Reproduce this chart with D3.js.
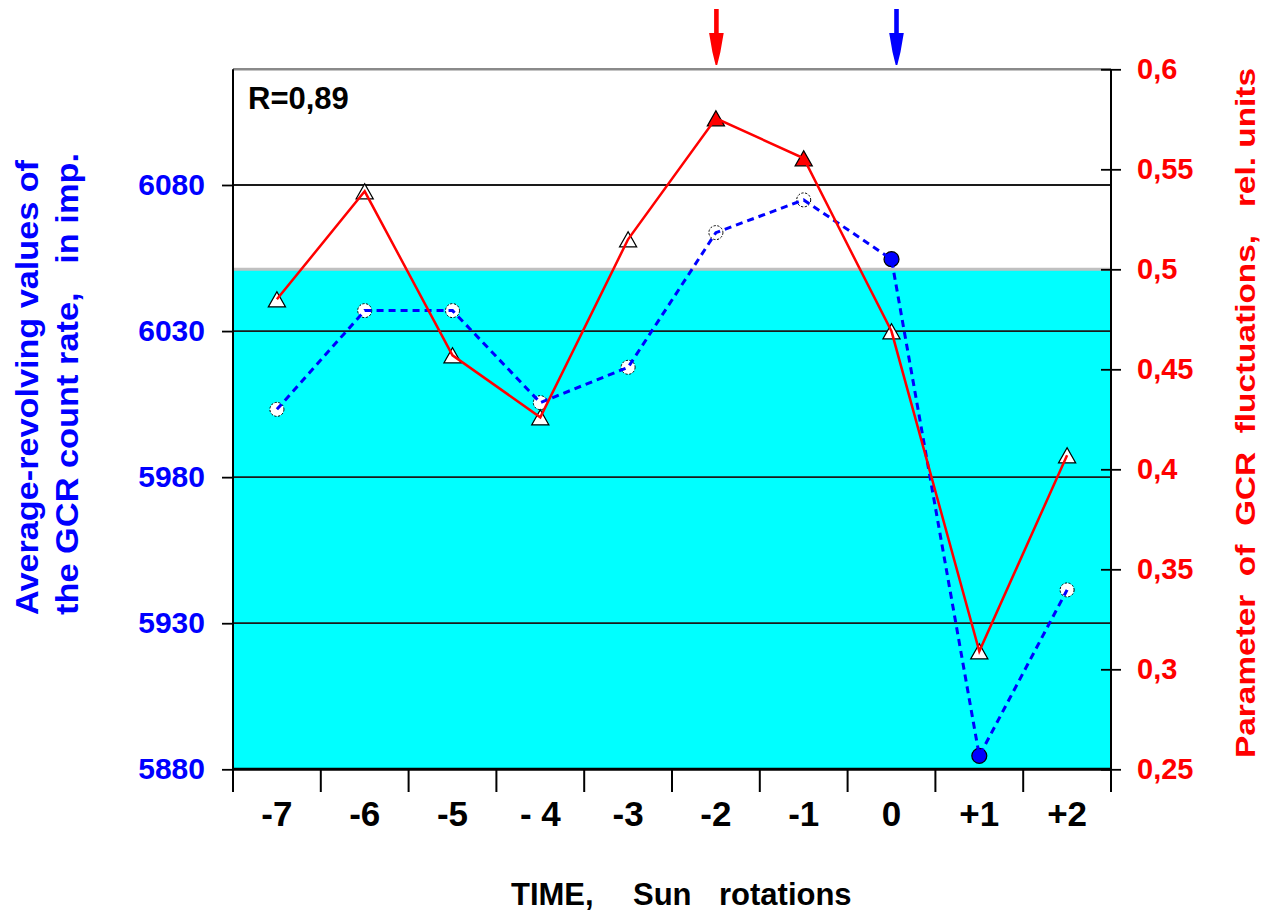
<!DOCTYPE html>
<html>
<head>
<meta charset="utf-8">
<script src="https://cdn.jsdelivr.net/npm/d3@7"></script>
<style>
  html, body { margin: 0; padding: 0; background: #fff; }
  svg { display: block; font-family: "Liberation Sans", Arial, sans-serif; }
  text { white-space: pre; }
</style>
</head>
<body>
<script>
// ---------------- DATA ----------------
const cats = ["-7", "-6", "-5", "- 4", "-3", "-2", "-1", "0", "+1", "+2"];
// Average-revolving GCR count rate (left axis, imp.)
const gcrCount = [6003.2, 6037.0, 6037.0, 6005.5, 6017.6, 6063.7, 6074.9, 6054.6, 5884.6, 5941.4];
// Parameter of GCR fluctuations (right axis, rel. units)
const gcrParam = [0.485, 0.539, 0.457, 0.426, 0.515, 0.5755, 0.5555, 0.469, 0.309, 0.407];
const countFilledCats = ["0", "+1"];
const paramFilledCats = ["-2", "-1"];
const leftTicks = [5880, 5930, 5980, 6030, 6080];
const rightTicks = [0.25, 0.3, 0.35, 0.4, 0.45, 0.5, 0.55, 0.6];
const bandLevel = [0.25, 0.5];          // cyan band on right-axis scale
const arrowCats = ["-2", "0"];
const arrowColors = ["#FF0000", "#0000FF"];
const corrLabel = "R=0,89";

// ---------------- LAYOUT ----------------
const W = 1274, H = 915;
const P = { l: 233, r: 1111, t: 69.3, b: 769.3 };
const tickBottom = 792;
const BLUE = "#0000FF", RED = "#FF0000";

const svg = d3.select("body").append("svg").attr("width", W).attr("height", H);
svg.append("rect").attr("width", W).attr("height", H).attr("fill", "#fff");

const x = d3.scaleBand().domain(cats).range([P.l, P.r]).padding(0);
const xc = c => x(c) + x.bandwidth() / 2;
const yL = d3.scaleLinear().domain([5880, 6119.6]).range([P.b, P.t]);
const yR = d3.scaleLinear().domain([0.25, 0.6]).range([P.b, P.t]);

// cyan band
svg.append("rect")
  .attr("x", P.l).attr("y", yR(bandLevel[1]))
  .attr("width", P.r - P.l).attr("height", yR(bandLevel[0]) - yR(bandLevel[1]))
  .attr("fill", "#00FFFF");

// grid lines
svg.append("g").selectAll("line").data(leftTicks.filter(v => v > leftTicks[0])).join("line")
  .attr("x1", P.l).attr("x2", P.r)
  .attr("y1", d => yL(d)).attr("y2", d => yL(d))
  .attr("stroke", "#1a1a1a").attr("stroke-width", 1.8);

// gray band top line
svg.append("line").attr("x1", P.l).attr("x2", P.r)
  .attr("y1", yR(bandLevel[1])).attr("y2", yR(bandLevel[1]))
  .attr("stroke", "#c0c0c0").attr("stroke-width", 3);

// top border
svg.append("line").attr("x1", P.l).attr("x2", P.r)
  .attr("y1", P.t).attr("y2", P.t)
  .attr("stroke", "#8a8a8a").attr("stroke-width", 2.5);

// ---------------- AXES ----------------
const gL = svg.append("g").attr("transform", `translate(${P.l},0)`)
  .call(d3.axisLeft(yL).tickValues(leftTicks).tickSize(11).tickPadding(17).tickFormat(d3.format("d")));
gL.select(".domain").remove();
gL.selectAll(".tick line").attr("stroke", "#000").attr("stroke-width", 1.8);
gL.selectAll(".tick text").attr("fill", BLUE)
  .style("font", "bold 30px 'Liberation Sans', Arial, sans-serif");

const gR = svg.append("g").attr("transform", `translate(${P.r},0)`)
  .call(d3.axisRight(yR).tickValues(rightTicks).tickSize(10).tickPadding(16)
    .tickFormat(d => String(d).replace(".", ",")));
gR.select(".domain").remove();
gR.selectAll(".tick line").attr("x1", -10).attr("x2", 10).attr("stroke", "#000").attr("stroke-width", 1.8);
gR.selectAll(".tick text").attr("fill", RED)
  .style("font", "bold 29px 'Liberation Sans', Arial, sans-serif");

const gB = svg.append("g").attr("transform", `translate(0,${P.b})`)
  .call(d3.axisBottom(x).tickSize(0).tickPadding(31.5));
gB.select(".domain").remove();
gB.selectAll(".tick text").attr("fill", "#000")
  .style("font", "bold 35px 'Liberation Sans', Arial, sans-serif");

// category boundary ticks
const bounds = cats.map(c => x(c)).concat([x.range()[1]]);
svg.append("g").selectAll("line").data(bounds).join("line")
  .attr("x1", d => d).attr("x2", d => d)
  .attr("y1", P.b).attr("y2", tickBottom)
  .attr("stroke", "#000").attr("stroke-width", 2);

// axis lines
svg.append("line").attr("x1", P.l).attr("x2", P.r).attr("y1", P.b).attr("y2", P.b)
  .attr("stroke", "#000").attr("stroke-width", 3);
svg.append("line").attr("x1", P.l).attr("x2", P.l).attr("y1", P.t).attr("y2", tickBottom)
  .attr("stroke", "#000").attr("stroke-width", 2);
svg.append("line").attr("x1", P.r).attr("x2", P.r).attr("y1", P.t).attr("y2", tickBottom)
  .attr("stroke", "#000").attr("stroke-width", 2);

// ---------------- SERIES ----------------
const countData = cats.map((c, i) => ({ c, v: gcrCount[i] }));
const paramData = cats.map((c, i) => ({ c, v: gcrParam[i] }));

// blue circles
svg.append("g").selectAll("circle").data(countData).join("circle")
  .attr("cx", d => xc(d.c)).attr("cy", d => yL(d.v))
  .attr("r", d => countFilledCats.includes(d.c) ? 7.5 : 7)
  .attr("fill", d => countFilledCats.includes(d.c) ? BLUE : "#fff")
  .attr("stroke", "#000")
  .attr("stroke-width", d => countFilledCats.includes(d.c) ? 1.2 : 1)
  .attr("stroke-dasharray", d => countFilledCats.includes(d.c) ? null : "2.2,1.6");

// blue dashed line
svg.append("path").datum(countData)
  .attr("d", d3.line().x(d => xc(d.c)).y(d => yL(d.v)))
  .attr("fill", "none").attr("stroke", BLUE).attr("stroke-width", 3)
  .attr("stroke-dasharray", "7,5");

// red triangles
const tri = "M0,-7.5 L8.5,7.5 L-8.5,7.5 Z";
svg.append("g").selectAll("path").data(paramData).join("path")
  .attr("d", tri)
  .attr("transform", d => `translate(${xc(d.c)},${yR(d.v)})`)
  .attr("fill", d => paramFilledCats.includes(d.c) ? RED : "#fff")
  .attr("stroke", "#000").attr("stroke-width", 1.3);

// red line
svg.append("path").datum(paramData)
  .attr("d", d3.line().x(d => xc(d.c)).y(d => yR(d.v)))
  .attr("fill", "none").attr("stroke", RED).attr("stroke-width", 2.5);

// ---------------- ANNOTATIONS ----------------
const arrowPath = "M-2.3,9 L2.3,9 L2.3,33 L7.3,33 L4,52 L0.8,65 L-0.8,65 L-4,52 L-7.3,33 L-2.3,33 Z";
svg.append("g").selectAll("path").data(arrowCats).join("path")
  .attr("d", arrowPath)
  .attr("transform", (c, i) => `translate(${xc(c) + (i === 1 ? 5 : 0.5)},0)`)
  .attr("fill", (c, i) => arrowColors[i]);

svg.append("text").attr("x", 248).attr("y", 109)
  .attr("fill", "#000").style("font", "bold 31px 'Liberation Sans', Arial, sans-serif")
  .text(corrLabel);

// x title
const xt = svg.append("text").attr("y", 905).attr("fill", "#000")
  .style("font", "bold 31px 'Liberation Sans', Arial, sans-serif");
xt.append("tspan").attr("x", 511).text("TIME,");
xt.append("tspan").attr("x", 633).text("Sun");
xt.append("tspan").attr("x", 719).text("rotations");

// left title
const lt = [
  { t: "Average-revolving values of", x: 38, len: 455 },
  { t: "the GCR count rate,   in imp.", x: 78, len: 462 }
];
svg.append("g").selectAll("text").data(lt).join("text")
  .attr("transform", d => `translate(${d.x},615) rotate(-90)`)
  .attr("text-anchor", "start")
  .attr("textLength", d => d.len).attr("lengthAdjust", "spacingAndGlyphs")
  .attr("fill", BLUE)
  .style("font", "bold 32px 'Liberation Sans', Arial, sans-serif")
  .text(d => d.t);

// right title
svg.append("text")
  .attr("transform", "translate(1255,758) rotate(-90)")
  .attr("text-anchor", "start")
  .attr("textLength", 690).attr("lengthAdjust", "spacingAndGlyphs")
  .attr("fill", RED)
  .style("font", "bold 28px 'Liberation Sans', Arial, sans-serif")
  .text("Parameter  of  GCR  fluctuations,   rel. units");
</script>
</body>
</html>
